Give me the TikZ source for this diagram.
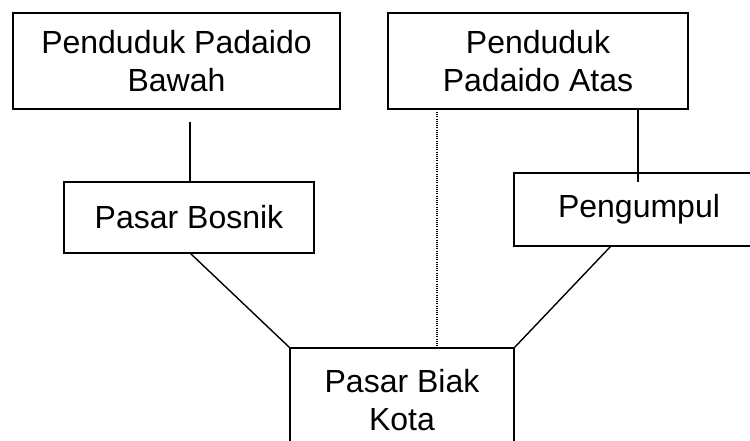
\documentclass[tikz,border=0pt]{standalone}
\usepackage{fontspec}
\setmainfont{Liberation Sans}
\begin{document}
\begin{tikzpicture}[x=1pt,y=-1pt,
  box/.style={draw, line width=1.4pt, align=center, inner sep=0pt,
    font=\fontsize{32}{38}\selectfont},
  conn/.style={line width=1.4pt},
  dotline/.style={line width=1.2pt, dash pattern=on 1pt off 1.2pt}]
\useasboundingbox (0,0) rectangle (750,441);
\clip (0,0) rectangle (750,441);
\node[box, minimum width=327pt, minimum height=96pt] (bawah) at (176.5,61) {Penduduk Padaido\\Bawah};
\node[box, minimum width=300pt, minimum height=96pt] (atas) at (538,61) {Penduduk\\Padaido Atas};
\node[box, minimum width=250pt, minimum height=71pt] (bosnik) at (189,217.5) {Pasar Bosnik};
\node[box, minimum width=250pt, minimum height=73pt] (pengumpul) at (639,209.5) {Pengumpul};
\node[box, minimum width=224pt, minimum height=104pt] (biak) at (402,400) {Pasar Biak\\Kota};
\coordinate (c1) at (190,122);
\coordinate (c2) at (638,182);
\coordinate (c3) at (437,112);
\coordinate (c4) at (190,253);
\coordinate (c5) at (611,246);
\draw[conn] (c1) -- (c1 |- bosnik.north);
\draw[conn] (c2 |- atas.south) -- (c2);
\draw[dotline] (c3) -- (c3 |- biak.north);
\draw[conn] (c4) -- (biak.north west);
\draw[conn] (c5) -- (biak.north east);
\end{tikzpicture}
\end{document}
